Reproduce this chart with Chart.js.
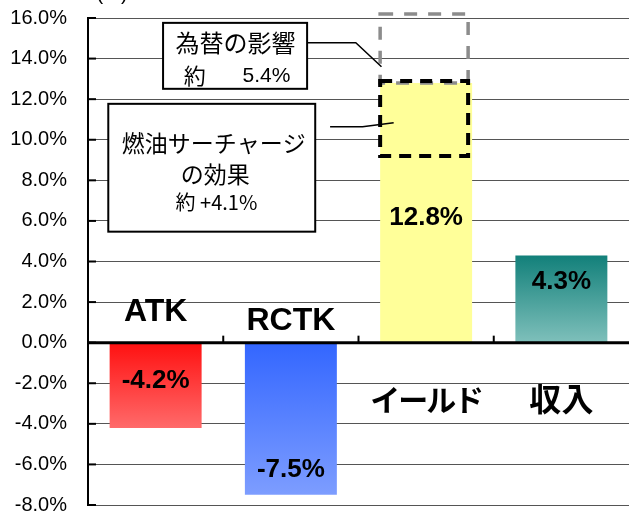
<!DOCTYPE html>
<html>
<head>
<meta charset="utf-8">
<script src="https://cdn.jsdelivr.net/npm/chart.js@4"></script>
<style>
  html, body { margin: 0; padding: 0; background: #fff; overflow: hidden; }
  canvas { display: block; }
</style>
</head>
<body>
<canvas id="chart" width="629" height="516"></canvas>
<script>
// data
const categories = ["ATK", "RCTK", "イールド", "収入"];
const changes = [-4.2, -7.5, 12.8, 4.3];
const fxRange = [12.8, 16.2];     // 為替の影響 (gray dashed)
const fuelRange = [9.2, 12.9];    // 燃油サーチャージの効果 (black dashed)
const yMin = -8, yMax = 16, yStep = 2;

// styles
const topColors = ["#ff1010", "#3366ff", "#ffff99", "#12807a"];
const bottomColors = ["#ff6a6a", "#7d9dff", "#ffff99", "#7fc0bb"];
const valueLabelY = [-1.9, -6.25, 6.15, 3.0];
const nameLabelY = [1.5, 1.05, -2.8, -2.75];

const JP = '"Noto Sans CJK JP", "Liberation Sans", sans-serif';
const LAT = '"Liberation Sans", Arial, sans-serif';

function barFill(ctx) {
    const chart = ctx.chart;
    const i = ctx.dataIndex;
    if (!chart.chartArea) return topColors[i];
    const y = chart.scales.y;
    const v = changes[i];
    const top = y.getPixelForValue(Math.max(v, 0));
    const bottom = y.getPixelForValue(Math.min(v, 0));
    const g = chart.ctx.createLinearGradient(0, top, 0, bottom);
    g.addColorStop(0, topColors[i]);
    g.addColorStop(1, bottomColors[i]);
    return g;
}

const overlay = {
    id: "overlay",
    afterDatasetsDraw(chart) {
        const c = chart.ctx;
        const x = chart.scales.x, y = chart.scales.y;
        const area = chart.chartArea;
        const x0 = x.getPixelForValue(0), x1 = x.getPixelForValue(1);
        const px = idx => x0 + idx * (x1 - x0);
        const bars = chart.getDatasetMeta(0).data;

        c.save();

        // dashed boxes on the yield bar
        const yb = bars[2];
        const bl = yb.x - yb.width / 2, br = yb.x + yb.width / 2 - 4;
        c.setLineDash([13, 11]);
        c.strokeStyle = "#8c8c8c";
        c.lineWidth = 3.5;
        c.strokeRect(bl, y.getPixelForValue(fxRange[1]), br - bl, y.getPixelForValue(fxRange[0]) - y.getPixelForValue(fxRange[1]));
        c.setLineDash([12, 8]);
        c.strokeStyle = "#000";
        c.lineWidth = 4;
        c.strokeRect(bl, y.getPixelForValue(fuelRange[1]), br - bl, y.getPixelForValue(fuelRange[0]) - y.getPixelForValue(fuelRange[1]));
        c.setLineDash([]);

        // zero line and category ticks
        const zy = y.getPixelForValue(0);
        c.strokeStyle = "#000";
        c.lineWidth = 3;
        c.beginPath();
        c.moveTo(area.left, zy);
        c.lineTo(area.right, zy);
        c.stroke();
        c.lineWidth = 2;
        for (let k = 1; k < categories.length; k++) {
            const tx = px(k - 0.5);
            c.beginPath();
            c.moveTo(tx, zy);
            c.lineTo(tx, zy - 7);
            c.stroke();
        }

        // inward ticks on the y axis
        for (let v = yMin; v <= yMax; v += yStep) {
            const ty = y.getPixelForValue(v);
            c.beginPath();
            c.moveTo(area.left, ty);
            c.lineTo(area.left + 8, ty);
            c.stroke();
        }

        // leader lines
        c.lineWidth = 1.5;
        c.beginPath();
        c.moveTo(px(1.12), y.getPixelForValue(14.78));
        c.lineTo(px(1.48), y.getPixelForValue(14.78));
        c.lineTo(px(1.67), y.getPixelForValue(13.6));
        c.stroke();
        c.beginPath();
        c.moveTo(px(1.29), y.getPixelForValue(10.64));
        c.lineTo(px(1.53), y.getPixelForValue(10.64));
        c.lineTo(px(1.76), y.getPixelForValue(10.84));
        c.stroke();

        // callout boxes
        function box(ix1, ix2, v1, v2) {
            const l = px(ix1), r = px(ix2), t = y.getPixelForValue(v1), b = y.getPixelForValue(v2);
            c.fillStyle = "#fff";
            c.fillRect(l, t, r - l, b - t);
            c.strokeStyle = "#000";
            c.lineWidth = 2;
            c.strokeRect(l, t, r - l, b - t);
        }
        box(0.055, 1.12, 15.76, 12.51);
        box(-0.35, 1.18, 11.77, 5.47);

        c.fillStyle = "#000";
        c.textAlign = "center";
        c.textBaseline = "middle";
        c.font = "24px " + JP;
        c.fillText("為替の影響", px(0.59), y.getPixelForValue(14.78));
        c.font = "22px " + JP;
        c.fillText("約", px(0.29), y.getPixelForValue(13.15));
        c.font = "21px " + LAT;
        c.fillText("5.4%", px(0.82), y.getPixelForValue(13.15));
        c.font = "23px " + JP;
        c.fillText("燃油サーチャージ", px(0.43), y.getPixelForValue(9.85));
        c.fillText("の効果", px(0.44), y.getPixelForValue(8.28));
        c.font = "20px " + JP;
        c.fillText("約 +4.1%", px(0.45), y.getPixelForValue(6.9));

        // value labels in bars
        c.font = "bold 26px " + LAT;
        bars.forEach((bar, i) => {
            c.fillText(changes[i].toFixed(1) + "%", bar.x, y.getPixelForValue(valueLabelY[i]));
        });

        // category names
        bars.forEach((bar, i) => {
            if (i < 2) {
                c.font = "bold 32px " + LAT;
                c.letterSpacing = "0px";
            } else if (i === 2) {
                c.font = "bold 30px " + JP;
                c.letterSpacing = "-2px";
            } else {
                c.font = "bold 32px " + JP;
                c.letterSpacing = "0px";
            }
            c.fillText(categories[i], bar.x, y.getPixelForValue(nameLabelY[i]));
        });
        c.letterSpacing = "0px";

        // unit
        c.font = "20px " + LAT;
        c.textBaseline = "bottom";
        c.fillText("(%)", 112, 4);

        c.restore();
    }
};

document.addEventListener("DOMContentLoaded", function () {
    new Chart(document.getElementById("chart"), {
        type: "bar",
        data: {
            labels: categories,
            datasets: [{
                data: changes,
                backgroundColor: barFill,
                borderWidth: 0,
                categoryPercentage: 1,
                barPercentage: 0.68
            }]
        },
        options: {
            responsive: false,
            animation: false,
            layout: { padding: { top: 18, right: 0, bottom: 11, left: 0 } },
            plugins: {
                legend: { display: false },
                tooltip: { enabled: false }
            },
            scales: {
                x: { display: false },
                y: {
                    min: yMin,
                    max: yMax,
                    afterFit: s => {
                        s.width = 88;
                        s.paddingTop = 0;
                        s.paddingBottom = 0;
                    },
                    ticks: {
                        stepSize: yStep,
                        padding: 2,
                        color: "#000",
                        font: { family: LAT, size: 20 },
                        callback: v => v.toFixed(1) + "%"
                    },
                    grid: { color: "#555", lineWidth: 1, tickLength: 19, tickColor: "rgba(0,0,0,0)" },
                    border: { color: "#000", width: 2 }
                }
            }
        },
        plugins: [overlay]
    });
});
</script>
</body>
</html>
